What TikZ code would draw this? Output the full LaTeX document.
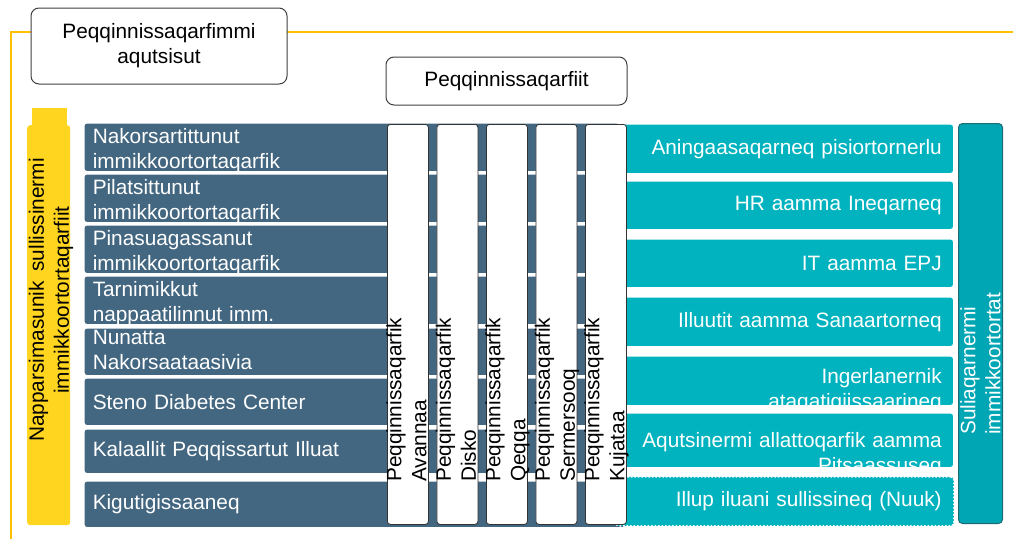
\documentclass[tikz,border=0pt]{standalone}
\usepackage{fontspec}
\setmainfont{Liberation Sans}[WordSpace=1.65]

\definecolor{deptblue}{HTML}{446781}
\definecolor{suppteal}{HTML}{00B3BF}
\definecolor{barteal}{HTML}{00A6B3}
\definecolor{barline}{HTML}{1D6B73}
\definecolor{frameyellow}{HTML}{FFC000}
\definecolor{baryellow}{HTML}{FFD520}

\tikzset{
    boxfont/.style={font=\fontsize{20.8}{25}\selectfont},
    headbox/.style={boxfont, draw=black!75, line width=1pt, fill=white, rounded corners=8pt, align=center, inner sep=0pt},
    deptrow/.style={boxfont, fill=deptblue, draw=white, line width=1.5pt, rounded corners=3pt, anchor=north west, text=white, text width=524pt, inner xsep=9pt, align=left},
    tworow/.style={inner ysep=2pt, text height=19pt, text depth=26pt},
    supprow/.style={boxfont, fill=suppteal, draw=white, line width=1.5pt, rounded corners=3pt, anchor=north west, text=white, text width=314pt, inner xsep=12pt, align=right, minimum width=338pt},
    hospcol/.style={draw=black!80, line width=0.8pt, fill=white, rounded corners=3pt, anchor=north west, minimum width=41pt, minimum height=400pt, inner sep=0pt},
    sidetext/.style={boxfont, rotate=90, inner sep=0pt}
}

\begin{document}
\begin{tikzpicture}[x=1pt, y=-1pt]
        \useasboundingbox (0,0) rectangle (1013,539);

        % frame
        \draw[frameyellow, line width=2pt] (11,539) -- (11,32) -- (1013,32);

        \node[headbox, minimum width=256pt, minimum height=76pt] (mgmt) at (159,46) {Peqqinnissaqarfimmi\\aqutsisut};
        \node[headbox, minimum width=241pt, minimum height=48pt] (hosps) at (506.5,81) {Peqqinnissaqarfiit};

        % yellow side bar
        \fill[baryellow] (32,108) rectangle (67,130);
        \node[fill=baryellow, rounded corners=3pt, anchor=north west, minimum width=43pt, minimum height=400pt, inner sep=0pt] (carebar) at (27,125) {};
        \node[sidetext, align=center] (caretext) at (51,300) {Napparsimasunik sullissinermi\\immikkoortortaqarfiit};

        % departments
        \node[deptrow, tworow, minimum height=49pt] (dept1) at (83,122) {Nakorsartittunut\\immikkoortortaqarfik};
        \node[deptrow, tworow, minimum height=48pt] (dept2) at (83,173) {Pilatsittunut\\immikkoortortaqarfik};
        \node[deptrow, tworow, minimum height=49pt] (dept3) at (83,224) {Pinasuagassanut\\immikkoortortaqarfik};
        \node[deptrow, tworow, minimum height=49pt] (dept4) at (83,275) {Tarnimikkut\\nappaatilinnut imm.};
        \node[deptrow, tworow, text height=15pt, text depth=29pt, minimum height=48pt] (dept5) at (83,327) {Nunatta\\Nakorsaataasivia};
        \node[deptrow, minimum height=48pt] (dept6) at (83,377) {Steno Diabetes Center};
        \node[deptrow, minimum height=45pt] (dept7) at (83,428) {Kalaallit Peqqissartut Illuat};
        \node[deptrow, minimum height=47pt] (dept8) at (83,480) {Kigutigissaaneq};

        % support units
        \node[supprow, minimum height=50pt] (supp1) at (615,123) {Aningaasaqarneq pisiortornerlu};
        \node[supprow, minimum height=49pt] (supp2) at (615,180) {HR aamma Ineqarneq};
        \node[supprow, minimum height=49pt] (supp3) at (615,238) {IT aamma EPJ};
        \node[supprow, minimum height=50pt] (supp4) at (615,296) {Illuutit aamma Sanaartorneq};
        \node[supprow, inner ysep=2pt, text height=26pt, text depth=20pt, minimum height=50pt] (supp5) at (615,355) {Ingerlanernik\\ataqatigiissaarineq};
        \node[supprow, inner ysep=2pt, text height=33pt, text depth=18pt, minimum height=55pt] (supp6) at (615,412) {Aqutsinermi allattoqarfik aamma\\Pitsaassuseq};
        \node[supprow, dotted, minimum height=49pt] (supp7) at (615,476) {Illup iluani sullissineq (Nuuk)};

        % hospitals
        \foreach \region [count=\i from 0] in {Avannaa,Disko,Qeqqa,Sermersooq,Kujataa}{
            \node[hospcol] (hosp\i) at ({387+49.5*\i},124) {};
            \node[sidetext, align=left, anchor=north west] (hosplabel\i) at ({386+49.5*\i},482) {Peqqinnissaqarfik\\\region};
        }

        % right side bar
        \node[fill=barteal, draw=barline, line width=1pt, rounded corners=4pt, anchor=north west, minimum width=44pt, minimum height=400pt, inner sep=0pt] (workbar) at (958,123) {};
        \node[sidetext, align=left, anchor=north west, text=white] (worktext) at (960,435) {Suliaqarnermi\\immikkoortortat};

    \end{tikzpicture}
\end{document}
